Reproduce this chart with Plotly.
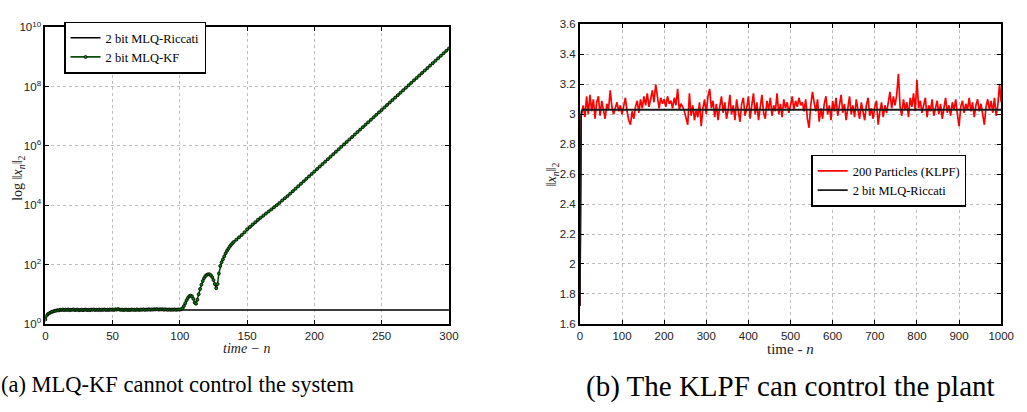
import plotly.graph_objects as go

# ---------------- data: panel (a) ----------------
kf_n = list(range(0, 141)) + list(range(142, 301, 2))
kf_vals = [
    1.40, 1.90, 2.15, 2.30, 2.45, 2.55, 2.65, 2.75, 2.80, 2.90,
    2.85, 3.00, 2.95, 3.05, 2.92, 3.02, 2.96, 3.06, 2.90, 3.00,
    2.98, 3.08, 2.92, 2.98, 3.04, 2.88, 2.95, 3.02, 2.90, 2.98,
    3.05, 2.93, 2.99, 2.91, 3.03, 2.97, 3.06, 2.94, 3.00, 2.96,
    3.04, 2.92, 3.02, 2.97, 3.08, 2.95, 3.01, 2.93, 3.05, 2.99,
    3.07, 2.96, 3.10, 3.02, 3.15, 3.05, 2.97, 3.03, 2.92, 2.99,
    3.04, 2.95, 3.01, 2.93, 3.06, 2.98, 3.02, 2.94, 3.07, 3.00,
    2.96, 3.04, 3.01, 3.09, 2.97, 3.05, 3.02, 3.11, 3.00, 3.08,
    3.04, 3.12, 3.06, 3.14, 3.03, 3.10, 3.07, 3.13, 3.02, 3.09,
    3.05, 3.00, 3.07, 2.98, 3.04, 3.01, 3.08, 2.99, 3.03, 3.06,
    3.05, 3.10, 3.40, 4.00, 5.00, 6.30, 7.60, 8.60, 9.00, 8.50,
    7.00, 5.20, 4.80, 6.50, 10.0, 15.0, 21.0, 28.0, 35.0, 41.0,
    45.0, 47.0, 47.0, 44.0, 38.0, 30.0, 22.0, 16.0, 22.0, 50.0,
    90.0, 120.0, 150.0, 190.0, 240.0, 290.0, 340.0, 400.0, 460.0, 520.0,
    580.0,
    690.0, 830.0, 1000.0, 1230.0, 1550.0, 1860.0, 2240.0, 2690.0, 3240.0, 3800.0,
    4470.0, 5250.0, 6170.0, 7240.0, 8510.0, 1.01e4, 1.20e4, 1.45e4, 1.72e4, 2.04e4,
    2.47e4, 2.99e4, 3.62e4, 4.39e4, 5.31e4, 6.43e4, 7.78e4, 9.42e4, 1.14e5, 1.38e5,
    1.67e5, 2.02e5, 2.45e5, 2.96e5, 3.59e5, 4.35e5, 5.26e5, 6.37e5, 7.71e5, 9.33e5,
    1.13e6, 1.37e6, 1.66e6, 2.00e6, 2.43e6, 2.94e6, 3.56e6, 4.31e6, 5.21e6, 6.31e6,
    7.64e6, 9.25e6, 1.12e7, 1.36e7, 1.64e7, 1.99e7, 2.40e7, 2.91e7, 3.52e7, 4.27e7,
    5.16e7, 6.25e7, 7.57e7, 9.16e7, 1.11e8, 1.34e8, 1.63e8, 1.97e8, 2.38e8, 2.88e8,
    3.49e8, 4.23e8, 5.12e8, 6.19e8, 7.50e8, 9.08e8, 1.10e9, 1.33e9, 1.61e9, 1.95e9,
]
ric_a_n = [0, 1, 2, 3, 4, 6, 8, 10, 13, 17, 300]
ric_a_vals = [1.40, 1.90, 2.15, 2.30, 2.45, 2.60, 2.72, 2.80, 2.88, 2.93, 2.95]

# ---------------- data: panel (b) ----------------
pf_n = [0, 1, 2, 3] + list(range(4, 1001, 4))
pf_vals = [
    1.72, 2.45, 2.90, 2.98,
    3.00, 3.06, 2.98, 3.12, 3.00, 3.13, 3.02, 3.10, 2.97, 3.08,
    3.12, 2.99, 3.09, 3.02, 2.97, 3.07, 3.03, 3.16, 3.05, 3.00,
    3.04, 3.08, 3.02, 3.06, 3.00, 3.05, 3.11, 3.02, 2.96, 2.93,
    3.02, 2.97, 3.05, 3.09, 3.01, 3.10, 3.04, 3.12, 3.06, 3.14,
    3.05, 3.10, 3.16, 3.08, 3.20, 3.12, 3.04, 3.11, 3.07, 3.10,
    3.05, 3.12, 3.07, 3.09, 3.04, 3.11, 3.06, 3.17, 3.03, 3.07,
    3.05, 3.02, 2.97, 2.93, 3.14, 2.99, 3.06, 2.96, 3.03, 2.98,
    3.08, 2.92, 3.04, 3.10, 3.00, 3.12, 3.17, 3.04, 3.09, 2.98,
    3.07, 2.96, 3.05, 3.12, 3.01, 3.08, 2.97, 3.03, 3.13, 3.00,
    3.06, 2.96, 3.10, 3.02, 2.95, 3.07, 3.11, 2.99, 3.04, 3.12,
    2.97, 3.06, 3.14, 3.00, 3.08, 2.96, 3.05, 3.13, 3.01, 2.97,
    3.09, 3.03, 3.11, 2.99, 3.06, 3.02, 3.14, 3.00, 3.07, 2.98,
    3.10, 3.04, 3.08, 3.01, 3.06, 3.12, 3.03, 3.09, 3.05, 3.11,
    3.06, 3.08, 3.02, 3.10, 2.97, 2.91, 3.06, 3.15, 3.08, 3.02,
    3.10, 2.95, 3.04, 2.97, 3.07, 3.12, 3.00, 3.06, 2.96, 3.09,
    3.02, 3.11, 2.99, 3.05, 3.13, 3.01, 3.07, 2.96, 3.04, 3.12,
    3.00, 3.06, 2.98, 3.10, 3.03, 2.97, 3.08, 3.01, 2.96, 3.06,
    3.11, 2.99, 3.04, 2.97, 3.05, 3.09, 2.93, 3.02, 3.08, 2.98,
    3.06, 3.01, 3.10, 3.15, 3.04, 3.12, 3.06, 3.13, 3.27, 3.05,
    2.99, 3.10, 3.03, 3.08, 2.98, 3.11, 3.05, 3.14, 3.02, 3.23,
    3.04, 3.09, 3.01, 3.07, 3.11, 2.98, 3.06, 3.02, 3.10, 2.99,
    3.05, 3.09, 3.00, 3.07, 2.97, 3.04, 3.11, 3.01, 3.06, 2.99,
    3.08, 3.03, 3.10, 3.00, 2.92, 3.05, 3.09, 3.01, 3.07, 3.03,
    3.11, 3.02, 3.08, 2.98, 3.06, 3.10, 3.02, 3.07, 2.99, 2.93,
    3.05, 3.10, 3.03, 3.09, 3.01, 3.11, 2.99, 3.06, 3.20, 3.08,
]
ric_b_n = [0, 1, 2, 3, 4, 6, 1000]
ric_b_vals = [1.72, 2.55, 2.90, 2.99, 3.02, 3.03, 3.03]

log_tickvals = [1, 1e2, 1e4, 1e6, 1e8, 1e10]
log_ticktext = ["10<sup>0</sup>", "10<sup>2</sup>", "10<sup>4</sup>",
                "10<sup>6</sup>", "10<sup>8</sup>", "10<sup>10</sup>"]

captions = ["(a) MLQ-KF cannot control the system", "(b) The KLPF can control the plant"]

W, H = 1027, 412
SERIF2 = "Liberation Serif"
SANS = "Liberation Sans"

fig = go.Figure()
fig.add_trace(go.Scatter(x=ric_a_n, y=ric_a_vals, mode="lines", name="2 bit MLQ-Riccati",
                         line=dict(color="black", width=1.5), xaxis="x", yaxis="y", legend="legend"))
fig.add_trace(go.Scatter(x=kf_n, y=kf_vals, mode="lines+markers", name="2 bit MLQ-KF",
                         line=dict(color="#0b4f0b", width=1.6),
                         marker=dict(size=3, color="#0a8a0a", line=dict(color="black", width=0.8)),
                         xaxis="x", yaxis="y", legend="legend"))
fig.add_trace(go.Scatter(x=pf_n, y=pf_vals, mode="lines", name="200 Particles (KLPF)",
                         line=dict(color="#ff0000", width=1.7), xaxis="x2", yaxis="y2", legend="legend2"))
fig.add_trace(go.Scatter(x=ric_b_n, y=ric_b_vals, mode="lines", name="2 bit MLQ-Riccati",
                         line=dict(color="#1a1a1a", width=1.8), xaxis="x2", yaxis="y2", legend="legend2"))

def px(v):
    return v / W

def py(v):
    return (H - v) / H

axis_common = dict(showline=True, linecolor="black", linewidth=1.8, mirror="allticks",
                   ticks="inside", ticklen=4, tickcolor="black", tickwidth=1,
                   showgrid=True, gridcolor="#bdbdbd", griddash="dot", gridwidth=1,
                   zeroline=False, tickfont=dict(family=SANS, size=11.5, color="#222"))

fig.update_layout(
    width=W, height=H, margin=dict(l=0, r=0, t=0, b=0),
    paper_bgcolor="white", plot_bgcolor="white", showlegend=True,
    xaxis=dict(domain=[px(43), px(453)], range=[0, 300], dtick=50, tick0=0,
               anchor="y", **axis_common),
    yaxis=dict(domain=[py(327), py(20)], type="log", range=[0, 10],
               tickvals=log_tickvals, ticktext=log_ticktext, anchor="x", **axis_common),
    xaxis2=dict(domain=[px(586), px(1014)], range=[0, 1000], dtick=100, tick0=0,
                anchor="y2", **axis_common),
    yaxis2=dict(domain=[py(327), py(17)], range=[1.6, 3.6], dtick=0.2, tick0=1.6,
                anchor="x2", **axis_common),
    legend=dict(x=px(62), y=py(14), xanchor="left", yanchor="top",
                bgcolor="white", bordercolor="black", borderwidth=1.5,
                font=dict(family=SERIF2, size=12.5, color="black"),
                itemwidth=30, tracegroupgap=0),
    legend2=dict(x=px(821), y=py(152), xanchor="left", yanchor="top",
                 bgcolor="white", bordercolor="black", borderwidth=1.5,
                 font=dict(family=SERIF2, size=12.5, color="black"),
                 itemwidth=30, tracegroupgap=0),
)

annos = [
    dict(x=px(15), y=py(176), text="log \u2016<i>x<sub>n</sub></i>\u2016<sub>2</sub>",
         textangle=-90, font=dict(family=SERIF2, size=14, color="#222"),
         xanchor="center", yanchor="middle"),
    dict(x=px(248), y=py(343), text="<i>time \u2212 n</i>",
         font=dict(family=SERIF2, size=14, color="#222"), xanchor="center", yanchor="top"),
    dict(x=px(558), y=py(172), text="\u2016<i>x<sub>n</sub></i>\u2016<sub>2</sub>",
         textangle=-90, font=dict(family=SERIF2, size=14, color="#222"),
         xanchor="center", yanchor="middle"),
    dict(x=px(800), y=py(343), text="time - <i>n</i>",
         font=dict(family=SERIF2, size=15, color="#222"), xanchor="center", yanchor="top"),
    dict(x=px(178), y=py(390), text=captions[0],
         font=dict(family=SERIF2, size=22.5, color="black"), xanchor="center", yanchor="middle"),
    dict(x=px(800), y=py(392), text=captions[1],
         font=dict(family=SERIF2, size=29, color="black"), xanchor="center", yanchor="middle"),
]
for a in annos:
    a.update(xref="paper", yref="paper", showarrow=False)
fig.update_layout(annotations=annos)

fig.write_html("out.html")
